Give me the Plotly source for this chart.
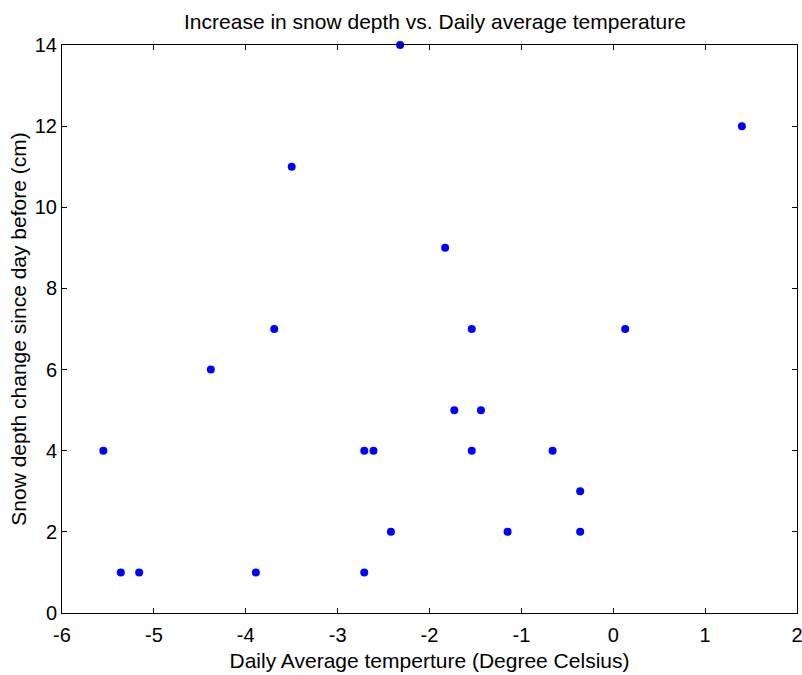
import plotly.graph_objects as go

temperature = [-5.55, -5.36, -5.16, -4.38, -3.89, -3.69, -3.5, -2.71, -2.71, -2.61, -2.42, -2.32,
               -1.83, -1.73, -1.54, -1.54, -1.44, -1.15, -0.66, -0.36, -0.36, 0.13, 1.4]
snow_change = [4, 1, 1, 6, 1, 7, 11, 4, 1, 4, 2, 14,
               9, 5, 7, 4, 5, 2, 4, 3, 2, 7, 12]

x_ticks = [-6, -5, -4, -3, -2, -1, 0, 1, 2]
x_tick_text = ["-6", "-5", "-4", "-3", "-2", "-1", "0", "1", "2"]
y_ticks = [0, 2, 4, 6, 8, 10, 12, 14]

FONT = "Liberation Sans, Arial"

fig = go.Figure()
fig.add_trace(go.Scatter(
    x=temperature, y=snow_change, mode="markers",
    marker=dict(color="rgb(0,0,255)", size=8, line=dict(width=0)),
    cliponaxis=False, showlegend=False,
))

axis_common = dict(
    showgrid=False, zeroline=False, showline=True, linecolor="black", linewidth=1,
    mirror="ticks", ticks="inside", ticklen=5, tickcolor="black", tickwidth=1,
    tickfont=dict(family=FONT, size=20, color="black"),
    ticklabeloverflow="allow", automargin=False,
)

fig.update_layout(
    width=802, height=675,
    margin=dict(l=62, r=5, t=45, b=62),
    paper_bgcolor="white", plot_bgcolor="white",
    title=dict(text="Increase in snow depth vs. Daily average temperature",
               x=435 / 802, xanchor="center", xref="container", y=1 - 22 / 675, yanchor="middle",
               font=dict(family=FONT, size=21, color="black")),
    xaxis=dict(range=[-6, 2], tickvals=x_ticks, ticktext=x_tick_text,
               ticklabelstandoff=4,
               title=dict(text="Daily Average temperture (Degree Celsius)", standoff=8,
                          font=dict(family=FONT, size=21, color="black")),
               **axis_common),
    yaxis=dict(range=[0, 14], tickvals=y_ticks,
               title=dict(text="Snow depth change since day before (cm)", standoff=2,
                          font=dict(family=FONT, size=21, color="black")),
               **axis_common),
)

fig.write_html("out.html")
